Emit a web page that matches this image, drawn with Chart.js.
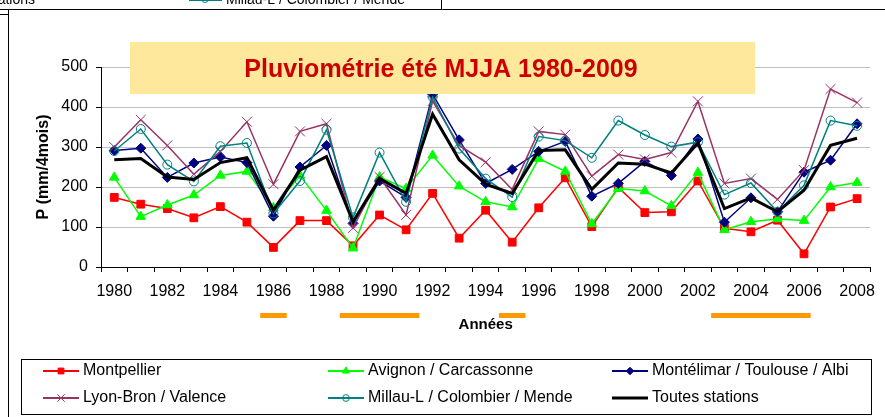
<!DOCTYPE html>
<html lang="fr">
<head>
<meta charset="utf-8">
<title>Pluviométrie été MJJA 1980-2009</title>
<script src="https://cdn.jsdelivr.net/npm/chart.js@4.4.1/dist/chart.umd.min.js"></script>
<style>
  html, body { margin: 0; padding: 0; background: #fff; }
  #wrap { width: 885px; height: 417px; }
</style>
</head>
<body>
<div id="wrap"><canvas id="pluvio" width="885" height="417"></canvas></div>
<script>
  // Années
  var annees = ["1980", "1981", "1982", "1983", "1984", "1985", "1986", "1987", "1988", "1989",
                "1990", "1991", "1992", "1993", "1994", "1995", "1996", "1997", "1998", "1999",
                "2000", "2001", "2002", "2003", "2004", "2005", "2006", "2007", "2008"];

  // Pluie mai-août (mm) par groupe de stations
  var montpellier = [174, 157, 146, 123, 151, 112, 49, 116, 116, 53, 130, 93, 184, 72, 142, 62, 148, 223, 101, 199, 136, 138, 215, 97, 88, 117, 33, 150, 171];
  var avignon = [224, 126, 155, 180, 229, 239, 148, 229, 141, 47, 225, 196, 279, 202, 163, 150, 271, 239, 108, 196, 190, 153, 236, 93, 113, 120, 116, 200, 211];
  var montelimar = [291, 297, 224, 260, 275, 261, 127, 250, 304, 109, 215, 174, 432, 318, 209, 244, 289, 314, 177, 209, 264, 229, 320, 112, 173, 138, 237, 267, 358];
  var lyon = [300, 368, 304, 232, 289, 363, 207, 339, 358, 98, 225, 130, 415, 304, 262, 194, 339, 331, 227, 281, 269, 286, 414, 209, 221, 169, 242, 445, 411];
  var millau = [290, 345, 256, 214, 302, 310, 134, 215, 343, 124, 286, 163, 425, 296, 221, 175, 326, 316, 273, 366, 330, 301, 312, 181, 210, 138, 204, 366, 353];
  var toutes = [268, 271, 225, 219, 261, 273, 142, 242, 276, 113, 221, 184, 382, 268, 207, 184, 291, 293, 194, 260, 257, 235, 310, 146, 173, 138, 192, 304, 322];

  // Graduations de l'axe Y
  var yTicks = [0, 100, 200, 300, 400, 500];

  // Périodes sèches (barres orange sous l'axe)
  var secheDebut = [1985.5, 1988.5, 1994.5, 2002.5];
  var secheFin = [1986.5, 1991.5, 1995.5, 2006.25];

  var police = "'Liberation Sans', Arial, sans-serif";
  Chart.defaults.font.family = police;
  Chart.defaults.color = "#000";

  function serie(label, data, color, style, radius, fill, width) {
    return {
      label: label,
      data: data,
      borderColor: color,
      backgroundColor: fill,
      borderWidth: width,
      tension: 0,
      fill: false,
      pointStyle: style,
      pointRadius: radius,
      pointBackgroundColor: fill,
      pointBorderColor: color,
      pointBorderWidth: 1
    };
  }

  var datasets = [
    serie("Montpellier", montpellier, "#FF0000", "rect", 5.5, "#FF0000", 1.5),
    serie("Avignon / Carcassonne", avignon, "#00FF00", "triangle", 5.5, "#00FF00", 1.5),
    serie("Montélimar / Toulouse / Albi", montelimar, "#000080", "rectRot", 5, "#000080", 1.5),
    serie("Lyon-Bron / Valence", lyon, "#993366", "crossRot", 7, "#993366", 1.5),
    serie("Millau-L / Colombier / Mende", millau, "#008080", "circle", 4.5, "rgba(0,0,0,0)", 1.5),
    serie("Toutes stations", toutes, "#000000", "circle", 0, "#000000", 3)
  ];
  // la dernière série passe au-dessus
  datasets.forEach(function (ds, i) { ds.order = datasets.length - i; });

  // Décor : cadre, titre, barres orange, légende
  var decor = {
    id: "decor",
    afterDraw: function (chart) {
      var ctx = chart.ctx;
      var x = chart.scales.x;
      ctx.save();

      // restes du graphique au-dessus
      ctx.strokeStyle = "#000";
      ctx.lineWidth = 1;
      ctx.beginPath();
      ctx.moveTo(0, 9.5); ctx.lineTo(885, 9.5);
      ctx.moveTo(441.5, 0); ctx.lineTo(441.5, 9.5);
      ctx.moveTo(0, 14.5); ctx.lineTo(8, 14.5);
      ctx.moveTo(8.5, 9.5); ctx.lineTo(8.5, 417);
      ctx.stroke();
      ctx.font = "14px " + police;
      ctx.fillStyle = "#000";
      ctx.textBaseline = "alphabetic";
      ctx.textAlign = "right";
      ctx.fillText("Toutes stations", 35, 4);
      ctx.textAlign = "left";
      ctx.fillText("Millau-L / Colombier / Mende", 226, 4);
      ctx.strokeStyle = "#008080";
      ctx.beginPath();
      ctx.moveTo(189, 0.5); ctx.lineTo(222, 0.5);
      ctx.stroke();
      ctx.beginPath();
      ctx.arc(205, -0.5, 3, 0, Math.PI * 2);
      ctx.stroke();

      // titre
      ctx.fillStyle = "#FDE89B";
      ctx.fillRect(130, 42, 625, 52);
      ctx.fillStyle = "#CC0000";
      ctx.font = "bold 25px " + police;
      ctx.textAlign = "center";
      ctx.fillText("Pluviométrie été MJJA 1980-2009", 441, 77);

      // périodes sèches
      ctx.fillStyle = "#FF9900";
      for (var i = 0; i < secheDebut.length; i++) {
        var x0 = x.getPixelForValue(secheDebut[i] - 1980);
        var x1 = x.getPixelForValue(secheFin[i] - 1980);
        ctx.fillRect(x0, 313, x1 - x0, 5);
      }

      // légende
      ctx.strokeStyle = "#000";
      ctx.lineWidth = 1;
      ctx.strokeRect(21.5, 359.5, 850, 55);
      var colX = [43, 328, 612];
      var rowY = [371, 398];
      ctx.font = "16px " + police;
      ctx.textAlign = "left";
      ctx.textBaseline = "middle";
      chart.data.datasets.forEach(function (ds, k) {
        var lx = colX[k % 3], ly = rowY[Math.floor(k / 3)];
        ctx.strokeStyle = ds.borderColor;
        ctx.lineWidth = ds.borderWidth === 3 ? 3 : 2;
        ctx.beginPath();
        ctx.moveTo(lx, ly); ctx.lineTo(lx + 36, ly);
        ctx.stroke();
        if (ds.pointRadius > 0) {
          ctx.fillStyle = ds.pointBackgroundColor;
          ctx.strokeStyle = ds.pointBorderColor;
          ctx.lineWidth = 1;
          Chart.helpers.drawPoint(ctx, {
            pointStyle: ds.pointStyle,
            radius: ds.pointRadius * 0.75,
            rotation: 0,
            borderWidth: 1
          }, lx + 18, ly);
        }
        ctx.fillStyle = "#000";
        ctx.fillText(ds.label, lx + 40, ly);
      });
      ctx.restore();
    }
  };

  var ctx = document.getElementById("pluvio").getContext("2d");
  var chart = new Chart(ctx, {
    type: "line",
    data: {
      labels: annees,
      datasets: datasets
    },
    options: {
      responsive: false,
      animation: false,
      layout: { padding: { left: 0, right: 6, top: 67, bottom: 0 } },
      plugins: {
        legend: { display: false },
        tooltip: { enabled: false }
      },
      scales: {
        x: {
          offset: true,
          grid: { offset: true, drawOnChartArea: false, tickLength: 5, color: "#000", tickColor: "#000" },
          border: { color: "#000", width: 1 },
          ticks: {
            autoSkip: false,
            maxRotation: 0,
            padding: 10,
            font: { size: 16 },
            callback: function (v, i) { return i % 2 === 0 ? this.getLabelForValue(v) : ""; }
          },
          title: {
            display: true,
            text: "Années",
            font: { size: 15, weight: "bold" },
            padding: { top: 0, bottom: 83 }
          },
          afterFit: function (s) { s.height = 150; }
        },
        y: {
          min: yTicks[0],
          max: yTicks[yTicks.length - 1],
          grid: { color: "#BFBFBF", tickColor: "#000", tickLength: 5 },
          border: { color: "#000", width: 1 },
          ticks: { stepSize: yTicks[1] - yTicks[0], padding: 8, font: { size: 16 } },
          title: {
            display: true,
            text: "P (mm/4mois)",
            font: { size: 16, weight: "bold" },
            padding: { top: 34, bottom: 0 }
          },
          afterFit: function (s) { s.width = 101; }
        }
      }
    },
    plugins: [decor]
  });
</script>
</body>
</html>
